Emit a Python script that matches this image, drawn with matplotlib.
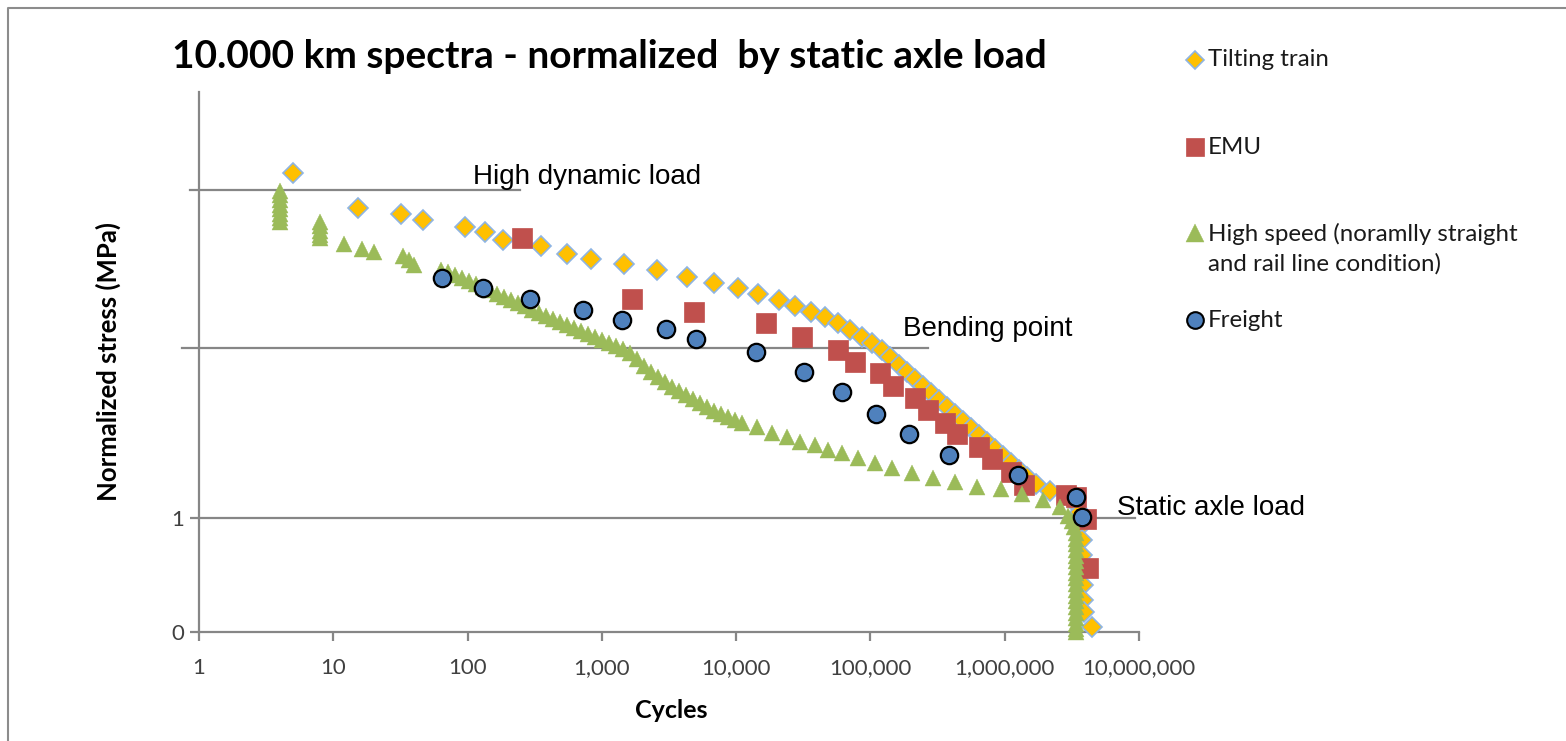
import matplotlib
matplotlib.use("Agg")
import matplotlib.pyplot as plt
from matplotlib.lines import Line2D
from matplotlib.ticker import FixedLocator, FixedFormatter, NullLocator

# ---------------- data (cycles, normalized stress) ----------------
tilt_x = [5.0, 15.3, 31.9, 46.6, 95.7, 134.8, 182.6, 352, 547, 826, 1462, 2560, 4281,
          6840, 10400, 14660, 20830, 27400, 36100, 45900, 57300, 70400, 86500, 102600,
          121900, 139900, 163300, 187300, 214800, 246200, 282400, 323800, 371300,
          426000, 488600, 560500, 642700, 737200, 845600, 970000, 1113000, 1276000,
          1464000, 1709000, 2174000, 3170000, 3630000, 3760000, 3760000, 3760000,
          3760000, 3800000, 3850000, 3900000, 4470000]
tilt_y = [4.026, 3.719, 3.667, 3.614, 3.553, 3.509, 3.439, 3.386, 3.316, 3.275, 3.228,
          3.175, 3.117, 3.061, 3.018, 2.961, 2.912, 2.860, 2.807, 2.763, 2.711, 2.649,
          2.588, 2.535, 2.474, 2.412, 2.342, 2.281, 2.219, 2.158, 2.096, 2.035, 1.974,
          1.912, 1.851, 1.789, 1.728, 1.667, 1.605, 1.544, 1.482, 1.421, 1.360, 1.298,
          1.237, 1.158, 1.053, 0.939, 0.807, 0.675, 0.544, 0.412, 0.281, 0.175, 0.044]

emu_x = [253, 1667, 4853, 16680, 30760, 57030, 76760, 117800, 148000, 214800, 269800,
         359200, 443600, 648600, 799800, 1113000, 1391000, 2858000, 3393000, 4030000,
         4170000]
emu_y = [3.459, 2.918, 2.809, 2.708, 2.585, 2.474, 2.371, 2.269, 2.158, 2.050, 1.945,
         1.836, 1.736, 1.623, 1.518, 1.406, 1.289, 1.202, 1.184, 0.991, 0.561]

hs_x = [4, 4, 4, 4, 4, 4, 4, 4, 8, 8, 8, 8, 8, 12.0, 16.4, 20.1, 33.0, 36.6, 39.9,
        63.4, 71.5, 80.6, 90.9, 102.5, 115.5, 130.3, 146.9, 165.6, 186.7, 210.6, 237.4,
        267.7, 301.8, 340.2, 383.7, 432.6, 487.7, 549.9, 620.1, 699.1, 788.2, 888.9,
        1002, 1130, 1274, 1437, 1620, 1826, 2059, 2322, 2618, 2952, 3329, 3753, 4231,
        4771, 5380, 6066, 6839, 7712, 8696, 9804, 11054, 14295, 18490, 23910, 29880,
        38650, 48310, 61410, 80790, 108100, 144700, 203900, 292300, 426200, 621600,
        937900, 1345000, 1927000, 2579000, 2958000,
        3168000, 3300000, 3400000, 3400000, 3400000, 3400000, 3400000, 3400000,
        3400000, 3400000, 3400000, 3400000, 3400000, 3400000, 3400000, 3400000,
        3400000, 3400000, 3400000, 3400000, 3400000]
hs_y = [3.87, 3.83, 3.79, 3.75, 3.71, 3.67, 3.63, 3.60, 3.60, 3.56, 3.52, 3.48, 3.46,
        3.40, 3.36, 3.33, 3.30, 3.26, 3.22,
        3.175, 3.158, 3.132, 3.105, 3.079, 3.053, 3.026, 3.000, 2.965, 2.939, 2.912,
        2.886, 2.860, 2.825, 2.798, 2.772, 2.746, 2.719, 2.693, 2.667, 2.640, 2.614,
        2.588, 2.561, 2.535, 2.509, 2.482, 2.447, 2.395, 2.333, 2.281, 2.237, 2.193,
        2.149, 2.114, 2.079, 2.044, 2.009, 1.974, 1.939, 1.912, 1.886, 1.860, 1.833,
        1.798, 1.746, 1.711, 1.667, 1.640, 1.596, 1.570, 1.526, 1.482, 1.439, 1.395,
        1.351, 1.316, 1.272, 1.254, 1.211, 1.158, 1.096, 1.018,
        0.97, 0.92, 0.87, 0.82, 0.77, 0.72, 0.67, 0.62, 0.57, 0.52, 0.47, 0.42,
        0.37, 0.32, 0.27, 0.22, 0.17, 0.12, 0.07, 0.03, 0.0]

fr_x = [64.2, 131.0, 291.7, 727.4, 1406, 2987, 5023, 14060, 32150, 61080, 109400,
        194600, 386500, 1262000, 3393000, 3741000]
fr_y = [3.103, 3.020, 2.918, 2.825, 2.737, 2.655, 2.568, 2.456, 2.281, 2.108, 1.912,
        1.737, 1.553, 1.377, 1.182, 1.011]

x_ticks = [1, 10, 100, 1000, 10000, 100000, 1000000, 10000000]
x_labels = ["1", "10", "100", "1,000", "10,000", "100,000", "1,000,000", "10,000,000"]
y_ticks = [0, 1]
y_labels = ["0", "1"]

ref_levels = [3.877, 2.491, 1.0]          # high dynamic, bending, static
ref_names = ["High dynamic load", "Bending point", "Static axle load"]

series_names = ["Tilting train", "EMU",
                "High speed (noramlly straight\nand rail line condition)", "Freight"]

# ---------------- styles ----------------
C_TILT, C_TILT_E = "#FFC000", "#8EB4E3"
C_EMU = "#C0504D"
C_HS = "#9BBB59"
C_FR = "#4F81BD"
GRID = "#868686"
TXT = "#1a1a1a"

W, H = 1566, 741
fig = plt.figure(figsize=(W / 100, H / 100), dpi=100)
fig.patch.set_facecolor("white")

ax = fig.add_axes([199 / W, (H - 632) / H, 940 / W, 540 / H])
ax.set_xscale("log")
ax.set_xlim(1, 1e7)
ax.set_ylim(0, 4.737)

for s in ["top", "right"]:
    ax.spines[s].set_visible(False)
for s in ["left", "bottom"]:
    ax.spines[s].set_color(GRID)
    ax.spines[s].set_linewidth(1.6)

ax.xaxis.set_major_locator(FixedLocator(x_ticks))
ax.xaxis.set_major_formatter(FixedFormatter(x_labels))
ax.xaxis.set_minor_locator(NullLocator())
ax.yaxis.set_major_locator(FixedLocator(y_ticks))
ax.yaxis.set_major_formatter(FixedFormatter(y_labels))
ax.tick_params(axis="both", direction="out", length=6.5, width=1.6, color=GRID,
               labelsize=16, labelcolor="#404040")
ax.tick_params(axis="x", pad=12)
ax.tick_params(axis="y", pad=4)
for lab in ax.get_xticklabels() + ax.get_yticklabels():
    lab.set_fontfamily("Lato")

# reference lines (x in axes fraction, y in data)
ytr = ax.get_yaxis_transform()
ref_ends = [0.3415, 0.7755, 0.9957]
ref_starts = [-0.0096, -0.018, 0.0]
for lvl, x0, x1 in zip(ref_levels, ref_starts, ref_ends):
    ax.plot([x0, x1], [lvl, lvl], transform=ytr, color=GRID, lw=1.6,
            clip_on=False, zorder=1)

# series
ax.plot(tilt_x, tilt_y, ls="none", marker="D", ms=9.8, mfc=C_TILT, mec=C_TILT_E,
        mew=1.2, zorder=3, clip_on=False)
ax.plot(emu_x, emu_y, ls="none", marker="s", ms=13.8, mfc=C_EMU, mec=C_EMU,
        mew=0.5, zorder=4, clip_on=False)
ax.plot(hs_x, hs_y, ls="none", marker="^", ms=11.5, mfc=C_HS, mec=C_HS,
        mew=0.3, zorder=5, clip_on=False)
ax.plot(fr_x, fr_y, ls="none", marker="o", ms=12.5, mfc=C_FR, mec="black",
        mew=1.6, zorder=6, clip_on=False)

# annotations
ann_x = [109.7, 174800, 6.85e6]
for name, lvl, xa, ya in zip(ref_names, ref_levels, ann_x, [3.991, 2.658, 1.088]):
    ax.text(xa, ya, name, fontsize=20, family="Liberation Sans", color="black",
            ha="left", va="center", clip_on=False)

# title & axis labels
fig.text(172 / W, 1 - 57 / H, "10.000 km spectra - normalized  by static axle load",
         fontsize=28, fontweight="bold", family="Lato", color="black",
         ha="left", va="center")
fig.text(671 / W, 1 - 710 / H, "Cycles", fontsize=18, fontweight="bold",
         family="Lato", color="black", ha="center", va="center")
fig.text(108 / W, 1 - 362 / H, "Normalized stress (MPa)", fontsize=18.5,
         fontweight="bold", family="Lato", color="black", ha="center",
         va="center", rotation=90)

# legend (manual)
leg_y = [60, 147, 233, 320]
leg_text_y = [60, 147, 249, 320]
leg_styles = [
    dict(marker="D", ms=9, mfc=C_TILT, mec=C_TILT_E, mew=1.2),
    dict(marker="s", ms=12.5, mfc=C_EMU, mec=C_EMU, mew=0.5),
    dict(marker="^", ms=12.5, mfc=C_HS, mec=C_HS, mew=0.3),
    dict(marker="o", ms=12, mfc=C_FR, mec="black", mew=1.5),
]
for name, yy, ty, st in zip(series_names, leg_y, leg_text_y, leg_styles):
    fig.add_artist(Line2D([1195 / W], [1 - yy / H], transform=fig.transFigure,
                          ls="none", **st))
    fig.text(1208 / W, 1 - ty / H, name, fontsize=17.3, family="Lato", color=TXT,
             ha="left", va="center", linespacing=1.45)

# outer chart border (partially visible)
fig.add_artist(Line2D([8 / W, 8 / W, 1.0], [0.0, 1 - 7.5 / H, 1 - 7.5 / H],
                      transform=fig.transFigure, color="#8c8c8c", lw=1.5))

fig.savefig("out.png", dpi=100, facecolor="white")
